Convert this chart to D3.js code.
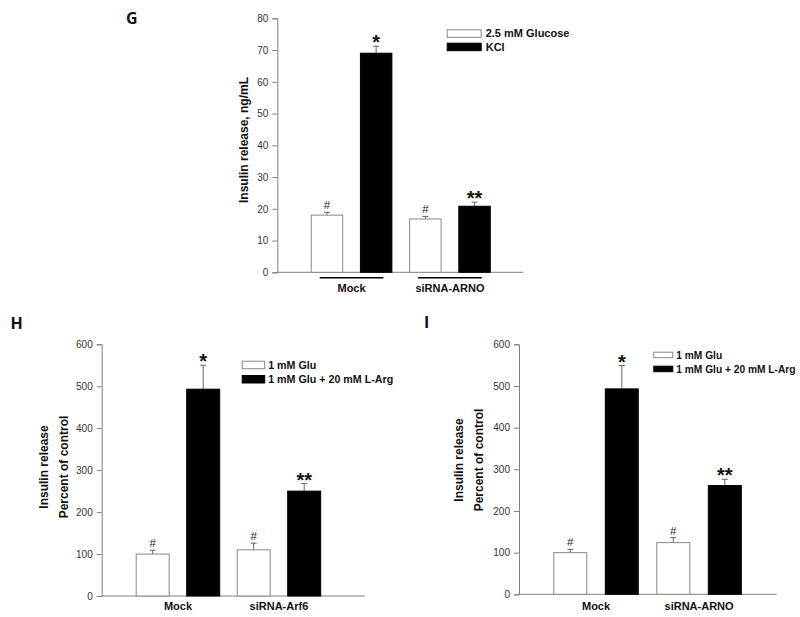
<!DOCTYPE html>
<html>
<head>
<meta charset="utf-8">
<script src="https://cdn.jsdelivr.net/npm/d3@7"></script>
<style>
  html, body { margin: 0; padding: 0; background: #fff; }
  svg { display: block; }
  text { font-family: Arial, "Liberation Sans", sans-serif; }
</style>
</head>
<body>
<svg id="chart" width="800" height="617"></svg>
<script>
// ---------- DATA ----------
// Panel G
const gCategories = ["Mock", "siRNA-ARNO"];
const gSeries = ["2.5 mM Glucose", "KCl"];
const gGlucose = [18.0, 16.8];
const gGlucoseErr = [0.9, 0.8];
const gKCl = [69.0, 20.8];
const gKClErr = [2.2, 1.3];
const gMarks = [["#", "*"], ["#", "**"]];
const gTicks = [0, 10, 20, 30, 40, 50, 60, 70, 80];
const gYLabel = ["Insulin release, ng/mL"];

// Panel H
const hCategories = ["Mock", "siRNA-Arf6"];
const hSeries = ["1 mM Glu", "1 mM Glu + 20 mM L-Arg"];
const hGlu = [100, 110];
const hGluErr = [9, 16];
const hArg = [493, 250];
const hArgErr = [57, 18];
const hMarks = [["#", "*"], ["#", "**"]];
const hTicks = [0, 100, 200, 300, 400, 500, 600];
const hYLabel = ["Insulin release", "Percent of control"];

// Panel I
const iCategories = ["Mock", "siRNA-ARNO"];
const iSeries = ["1 mM Glu", "1 mM Glu + 20 mM L-Arg"];
const iGlu = [100, 124];
const iGluErr = [8, 12];
const iArg = [493, 261];
const iArgErr = [56, 15];
const iMarks = [["#", "*"], ["#", "**"]];
const iTicks = [0, 100, 200, 300, 400, 500, 600];
const iYLabel = ["Insulin release", "Percent of control"];

// ---------- DRAW ----------
const svg = d3.select("#chart");
const fills = ["#ffffff", "#000000"];
const strokes = ["#888888", "#000000"];
const FONT = "Arial, 'Liberation Sans', sans-serif";

function panel(cfg) {
  const g = svg.append("g");
  const y = d3.scaleLinear().domain([0, cfg.ticks[cfg.ticks.length - 1]]).range([cfg.y0, cfg.yTop]);
  const x0 = d3.scaleBand().domain(cfg.categories).range([cfg.b0, cfg.b1]).padding(0);
  const x1 = d3.scaleBand().domain(cfg.series).range([0, x0.bandwidth()])
    .paddingInner(cfg.pad).paddingOuter(cfg.pad / 2);

  // axes
  g.append("line").attr("x1", cfg.ax0).attr("x2", cfg.ax1).attr("y1", cfg.y0).attr("y2", cfg.y0)
    .attr("stroke", "#808080").attr("stroke-width", 1);
  const yAxis = d3.axisLeft(y).tickValues(cfg.ticks).tickSize(5).tickPadding(4).tickFormat(d3.format("d"));
  const ya = g.append("g").attr("transform", `translate(${cfg.ax0},0)`).call(yAxis);
  ya.attr("font-family", FONT);
  ya.select(".domain").attr("stroke", "#808080");
  ya.selectAll(".tick line").attr("stroke", "#808080");
  ya.selectAll(".tick text").attr("fill", "#333").style("font-size", "10px")
    .style("font-family", FONT);

  // bars
  const rows = [];
  cfg.categories.forEach((c, i) => {
    cfg.series.forEach((s, j) => {
      rows.push({ c, s, j, v: cfg.values[j][i], e: cfg.errors[j][i], m: cfg.marks[i][j] });
    });
  });
  const bx = d => x0(d.c) + x1(d.s);
  const bw = x1.bandwidth();

  // error bars (upper only)
  rows.forEach(d => {
    const cx = bx(d) + bw / 2;
    g.append("line").attr("x1", cx).attr("x2", cx).attr("y1", y(d.v)).attr("y2", y(d.v + d.e))
      .attr("stroke", "#666").attr("stroke-width", 1);
    g.append("line").attr("x1", cx - 3).attr("x2", cx + 3).attr("y1", y(d.v + d.e)).attr("y2", y(d.v + d.e))
      .attr("stroke", "#666").attr("stroke-width", 1);
  });

  g.selectAll("rect.bar").data(rows).enter().append("rect").attr("class", "bar")
    .attr("x", d => bx(d) + 0.5).attr("y", d => y(d.v))
    .attr("width", bw - 1).attr("height", d => cfg.y0 - y(d.v))
    .attr("fill", d => fills[d.j]).attr("stroke", d => strokes[d.j]).attr("stroke-width", 1);

  // significance marks
  rows.forEach(d => {
    const cx = bx(d) + bw / 2;
    const top = y(d.v + d.e);
    if (d.m === "#") {
      g.append("text").attr("x", cx).attr("y", top - 3).attr("text-anchor", "middle")
        .style("font-family", FONT).style("font-size", "11.5px").attr("fill", "#222").text("#");
    } else {
      g.append("text").attr("x", cx).attr("y", top + 3).attr("text-anchor", "middle")
        .style("font-family", FONT).style("font-size", "20px").style("font-weight", "bold")
        .attr("fill", "#111").text(d.m);
    }
  });

  // category labels
  cfg.categories.forEach(c => {
    const cx = x0(c) + x0.bandwidth() / 2;
    if (cfg.underline) {
      g.append("line").attr("x1", x0(c) + x1(cfg.series[0]) + 9).attr("x2", x0(c) + x1(cfg.series[1]) + bw - 9)
        .attr("y1", cfg.y0 + 5.5).attr("y2", cfg.y0 + 5.5).attr("stroke", "#000").attr("stroke-width", 1.5);
    }
    g.append("text").attr("x", cx).attr("y", cfg.catY).attr("text-anchor", "middle")
      .style("font-family", FONT).style("font-size", "11px").style("font-weight", "bold")
      .attr("fill", "#111").text(c);
  });

  // y label
  cfg.ylabel.forEach((t, k) => {
    g.append("text").attr("transform", `translate(${cfg.ylx[k]},${cfg.lyc}) rotate(-90)`)
      .attr("text-anchor", "middle").attr("dy", "0.35em")
      .style("font-family", FONT).style("font-size", "12px").style("font-weight", "bold")
      .attr("fill", "#111").text(t);
  });

  // legend
  cfg.series.forEach((s, j) => {
    g.append("rect").attr("x", cfg.lgx + 0.5).attr("y", cfg.lgy[j] + 0.5).attr("width", cfg.lgw - 1).attr("height", cfg.lgh - 1)
      .attr("fill", fills[j]).attr("stroke", strokes[j]);
    g.append("text").attr("x", cfg.lgx + cfg.lgw + cfg.lgGap).attr("y", cfg.lgy[j] + cfg.lgh / 2).attr("dy", "0.35em")
      .style("font-family", FONT).style("font-size", cfg.lgFont).style("font-weight", "bold")
      .attr("fill", "#111").text(s);
  });

  // panel letter
  svg.append("text").attr("x", cfg.letterX).attr("y", cfg.letterY)
    .style("font-family", "'Open Sans', sans-serif").style("font-size", "16px").style("font-weight", "bold")
    .attr("fill", "#111").text(cfg.letter);
}

panel({
  letter: "G", letterX: 126, letterY: 23.5,
  categories: gCategories, series: gSeries, values: [gGlucose, gKCl], errors: [gGlucoseErr, gKClErr],
  marks: gMarks, ticks: gTicks, ylabel: gYLabel,
  y0: 272.3, yTop: 18.3, ax0: 277.3, ax1: 523,
  b0: 302.35, b1: 499.15, pad: 0.34, underline: true, catY: 291.5,
  ylx: [244], lyc: 140,
  lgx: 446.7, lgy: [29.3, 42.7], lgw: 35, lgh: 8.5, lgFont: "11px", lgGap: 4
});

panel({
  letter: "H", letterX: 10.5, letterY: 328.5,
  categories: hCategories, series: hSeries, values: [hGlu, hArg], errors: [hGluErr, hArgErr],
  marks: hMarks, ticks: hTicks, ylabel: hYLabel,
  y0: 596, yTop: 344.3, ax0: 101.7, ax1: 365,
  b0: 127.45, b1: 329.45, pad: 0.327, underline: false, catY: 610,
  ylx: [43.3, 63.3], lyc: 467,
  lgx: 241.7, lgy: [360.7, 375], lgw: 23.5, lgh: 8.5, lgFont: "10.7px", lgGap: 3
});

panel({
  letter: "I", letterX: 424, letterY: 328,
  categories: iCategories, series: iSeries, values: [iGlu, iArg], errors: [iGluErr, iArgErr],
  marks: iMarks, ticks: iTicks, ylabel: iYLabel,
  y0: 594.3, yTop: 344.3, ax0: 519, ax1: 776.7,
  b0: 544.55, b1: 750.55, pad: 0.34, underline: false, catY: 610,
  ylx: [458.3, 479], lyc: 460,
  lgx: 653.3, lgy: [351.7, 365.7], lgw: 20, lgh: 6.5, lgFont: "10.2px", lgGap: 3
});
</script>
</body>
</html>
